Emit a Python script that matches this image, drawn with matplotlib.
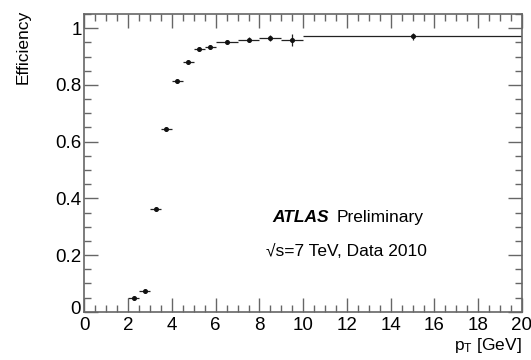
import matplotlib
matplotlib.use("Agg")
import matplotlib.pyplot as plt
import matplotlib.transforms as mtransforms
from matplotlib.ticker import MultipleLocator
import numpy as np

plt.rcParams['font.family'] = ['Liberation Sans', 'DejaVu Sans']
plt.rcParams['mathtext.fontset'] = 'custom'
plt.rcParams['mathtext.rm'] = 'Liberation Sans'
plt.rcParams['mathtext.it'] = 'Liberation Sans:italic'

bin_lo = [2.0, 2.5, 3.0, 3.5, 4.0, 4.5, 5.0, 5.5, 6.0, 7.0, 8.0, 9.0, 10.0]
bin_hi = [2.5, 3.0, 3.5, 4.0, 4.5, 5.0, 5.5, 6.0, 7.0, 8.0, 9.0, 10.0, 20.0]
eff = [0.047, 0.073, 0.364, 0.645, 0.814, 0.881, 0.926, 0.934, 0.953, 0.960, 0.965, 0.959, 0.971]
eff_err = [0.004, 0.004, 0.006, 0.007, 0.006, 0.006, 0.007, 0.008, 0.006, 0.008, 0.011, 0.022, 0.013]

lo = np.array(bin_lo)
hi = np.array(bin_hi)
xc = (lo + hi) / 2
xerr = (hi - lo) / 2

fig = plt.figure(figsize=(5.31, 3.6), dpi=100)
ax = fig.add_axes([0.159, 0.134, 0.824, 0.827])

ax.errorbar(xc, eff, xerr=xerr, yerr=eff_err, fmt='o', ms=2.6, color='#111111',
            ecolor='#222222', elinewidth=0.9, capsize=0, mec='#111111', mfc='#111111')

ax.set_xlim(0, 20)
ax.set_ylim(0, 1.05)
ax.xaxis.set_minor_locator(MultipleLocator(0.5))
ax.yaxis.set_minor_locator(MultipleLocator(0.05))
ax.set_xticks([0, 2, 4, 6, 8, 10, 12, 14, 16, 18, 20])
ax.set_xticklabels(['0', '2', '4', '6', '8', '10', '12', '14', '16', '18', '20'])
ax.set_yticks([0, 0.2, 0.4, 0.6, 0.8, 1.0])
ax.set_yticklabels(['0', '0.2', '0.4', '0.6', '0.8', '1'])

for s in ax.spines.values():
    s.set_color('#666666')
    s.set_linewidth(1.2)
ax.tick_params(which='both', direction='in', top=True, right=True, color='#666666', width=1.0)
ax.tick_params(which='major', length=10, labelsize=13.5)
ax.tick_params(axis='y', which='major', pad=2)
ax.tick_params(axis='x', which='major', pad=3.5)
ax.tick_params(which='minor', length=5)

# nudge the y "0" label up slightly so it does not collide with the x "0"
ylab0 = ax.get_yticklabels()[0]
ylab0.set_transform(ylab0.get_transform() + mtransforms.ScaledTranslation(-1 / 100, 4 / 100, fig.dpi_scale_trans))

fig.text(0.043, 0.972, 'Efficiency', rotation=90, ha='center', va='top', fontsize=12.5)
fig.text(0.983, 0.015, r'p$_{\mathrm{T}}$ [GeV]', ha='right', va='bottom', fontsize=12.5)

ax.text(8.61, 0.318, 'ATLAS', fontsize=12.5, fontweight='bold', fontstyle='italic', ha='left', va='baseline')
ax.text(11.53, 0.318, 'Preliminary', fontsize=12.5, ha='left', va='baseline')
ax.text(8.3, 0.195, '\u221as=7 TeV, Data 2010', fontsize=12.5, ha='left', va='baseline')

fig.savefig('out.png', dpi=100)
